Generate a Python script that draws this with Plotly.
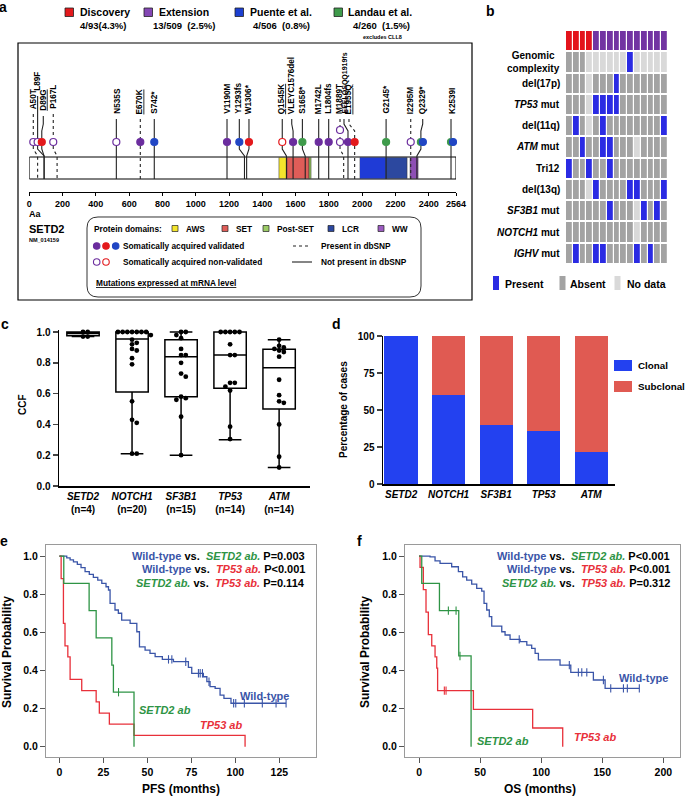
import plotly.graph_objects as go

W, H = 685, 797
FONT = "Liberation Sans, Arial, sans-serif"


def px(x):
    return x / W


def py(y):
    return 1 - y / H


# ======================= DATA =======================
# ---- panel a : SETD2 lollipop ----
cohort_names = ['Discovery', 'Extension', 'Puente et al.', 'Landau et al.']
cohort_counts = ['4/93(4.3%)', '13/509  (2.5%)', '4/506  (0.8%)', '4/260  (1.5%)']
cohort_colors = ['#e3191c', '#8447b4', '#1c3fd1', '#3f9b4b']
circle_colors = ['#e3191c', '#6b2d9e', '#2146c4', '#3f9b4b']

protein_length = 2564
axis_ticks = [0, 200, 400, 600, 800, 1000, 1200, 1400, 1600, 1800, 2000, 2200, 2400, 2564]
domain_names = ['AWS', 'SET', 'Post-SET', 'LCR', 'WW']
domain_start = [1500, 1548, 1681, 1987, 2288]
domain_end = [1548, 1681, 1693, 2270, 2336]
domain_colors = ['#f4e52c', '#df5d58', '#8fc05b', '#2c489f', '#8e4fb5']
lcr_core = [1987, 2138]

mut_names = ['A50T', 'L89F', 'D89G', 'P167L', 'N535S', 'E670K', 'S742*', 'V1190M', 'Y1293fs',
             'W1306*', 'Q1545K', 'VLEYC1576del', 'S1658*', 'M1742L', 'L1804fs', 'M1889T',
             'EEELQSQQ1919fs', 'E1955Q', 'G2145*', 'I2295M', 'Q2329*', 'K2539I']
mut_pos = [50, 89, 89, 167, 535, 670, 742, 1190, 1293, 1306, 1545, 1576, 1658, 1742, 1804,
           1889, 1919, 1955, 2145, 2295, 2329, 2539]
mut_label_at = [24, 48, 84, 141, 525, 665, 751, 1186, 1256, 1316, 1517, 1577, 1637, 1737, 1797,
                1861, 1891, 1921, 2144, 2292, 2364, 2540]
mut_dbsnp = [1, 0, 0, 1, 0, 1, 0, 0, 0, 0, 0, 0, 0, 0, 0, 1, 0, 1, 0, 1, 0, 0]
mut_mrna = [0, 0, 1, 0, 0, 1, 0, 0, 0, 0, 1, 0, 0, 0, 0, 0, 0, 1, 0, 0, 0, 0]

# one entry per mutated sample (circle)
samp_mut = [0, 1, 2, 3, 4, 5, 6, 7, 8, 9, 10, 11, 12, 13, 14, 15, 15, 16, 17, 18, 19, 20, 20, 21, 21]
samp_cohort = [1, 1, 0, 1, 1, 1, 2, 1, 2, 0, 0, 1, 3, 1, 1, 1, 1, 1, 0, 3, 1, 3, 2, 3, 2]
samp_valid = [0, 0, 1, 0, 0, 1, 1, 1, 1, 1, 0, 1, 1, 1, 1, 0, 0, 1, 1, 1, 0, 1, 1, 1, 1]
samp_at = [24, 50, 75, 144, 523, 667, 751, 1188, 1262, 1320, 1520, 1585, 1641, 1739, 1799,
           1867, 1867, 1915, 1955, 2144, 2292, 2353, 2365, 2534, 2546]
samp_stack = [0] * 15 + [0, 1] + [0] * 8

# ---- panel b : heatmap ----
b_cohort = ['D', 'D', 'D', 'D', 'E', 'E', 'E', 'E', 'E', 'E', 'E', 'E', 'E', 'E', 'E']
b_rows = ['Genomic complexity', 'del(17p)', 'TP53 mut', 'del(11q)', 'ATM mut', 'Tri12',
          'del(13q)', 'SF3B1 mut', 'NOTCH1 mut', 'IGHV mut']
b_row_labels = ['Genomic<br>complexity', 'del(17p)', '<i>TP53</i> mut', 'del(11q)', '<i>ATM</i> mut',
                'Tri12', 'del(13q)', '<i>SF3B1</i> mut', '<i>NOTCH1</i> mut', '<i>IGHV</i> mut']
b_status = [
    'AAANNNNNNPNNNNN',
    'AAANAAAPAAAAAAA',
    'AAANPPPPAAAAAAA',
    'APANAPAAAAAAAAP',
    'AAPAAPPAAANAAAA',
    'PAAPAAPAAAAAAAA',
    'AAANPAAAAPPAAAP',
    'AAAAAAPAAANPAPA',
    'AAAAAAAAAANAAAA',
    'APAAPPAAAAPAPAA',
]

# ---- panel c : CCF boxplots ----
c_genes = ['SETD2', 'NOTCH1', 'SF3B1', 'TP53', 'ATM']
c_n = [4, 20, 15, 14, 14]
c_q1 = [0.975, 0.61, 0.58, 0.635, 0.50]
c_median = [0.99, 0.955, 0.84, 0.85, 0.768]
c_q3 = [1.0, 1.0, 0.95, 1.0, 0.888]
c_min = [0.97, 0.21, 0.20, 0.30, 0.12]
c_max = [1.0, 1.0, 1.0, 1.0, 0.95]
ccf_setd2 = [1.0, 1.0, 0.97, 0.97]
ccf_notch1 = [1.0, 1.0, 1.0, 1.0, 1.0, 1.0, 1.0, 0.98, 0.95, 0.93, 0.92, 0.89, 0.88, 0.83, 0.79,
              0.55, 0.43, 0.41, 0.21, 0.21]
ccf_sf3b1 = [1.0, 1.0, 0.98, 0.96, 0.89, 0.85, 0.85, 0.80, 0.73, 0.71, 0.58, 0.57, 0.56, 0.45, 0.20]
ccf_tp53 = [1.0, 1.0, 1.0, 1.0, 1.0, 0.92, 0.85, 0.85, 0.67, 0.67, 0.645, 0.62, 0.385, 0.305]
ccf_atm = [0.95, 0.91, 0.90, 0.89, 0.88, 0.87, 0.84, 0.69, 0.59, 0.55, 0.54, 0.40, 0.19, 0.12]

# ---- panel d : clonality ----
d_clonal = [100, 60, 40, 35.7, 21.4]
d_subclonal = [0, 40, 60, 64.3, 78.6]

# ---- panel e : PFS ----
pfs_wt_t = [0, 4.2, 6.1, 8.0, 10.2, 12.3, 14.6, 17.0, 19.3, 21.8, 24.1, 26.5, 27.9, 28.8, 31.6,
            33.5, 35.4, 40.2, 44.0, 45.5, 48.7, 51.5, 54.4, 58.5, 64.8, 73.3, 75.2, 81.8, 83.8,
            85.6, 88.5, 91.3, 93.5, 97.5]
pfs_wt_s = [1.0, 0.99, 0.98, 0.97, 0.956, 0.939, 0.918, 0.904, 0.888, 0.874, 0.857, 0.839, 0.822,
            0.752, 0.717, 0.70, 0.664, 0.647, 0.603, 0.524, 0.507, 0.49, 0.472, 0.458, 0.446, 0.416,
            0.385, 0.367, 0.341, 0.315, 0.306, 0.271, 0.254, 0.228]
pfs_wt_end = 128.8
pfs_wt_cens = [62.0, 63.9, 71.8, 79.0, 80.0, 81.3, 85.0, 99.0, 100.2, 105.1, 115.3, 123.1, 128.8]
pfs_setd2_t = [0, 2.5, 16.9, 20.9, 29.8, 30.7, 42.4]
pfs_setd2_s = [1.0, 0.857, 0.714, 0.571, 0.428, 0.286, 0.0]
pfs_setd2_cens = [33.6]
pfs_tp53_t = [0, 1.0, 2.3, 3.2, 4.8, 6.1, 12.7, 20.9, 22.7, 28.4, 42.4, 105.5]
pfs_tp53_s = [1.0, 0.882, 0.647, 0.529, 0.471, 0.353, 0.294, 0.235, 0.176, 0.118, 0.059, 0.0]
pfs_tp53_cens = []
pfs_p = ['P=0.003', 'P&lt;0.001', 'P=0.114']

# ---- panel f : OS ----
os_wt_t = [0, 9.0, 13.1, 17.2, 26.7, 32.2, 35.7, 39.0, 43.1, 47.2, 51.3, 53.2, 55.4, 57.5, 59.5,
           67.7, 70.4, 74.5, 82.7, 88.2, 92.2, 95.0, 97.7, 115.4, 124.2, 142.7, 152.3]
os_wt_s = [1.0, 0.996, 0.975, 0.962, 0.944, 0.918, 0.891, 0.874, 0.853, 0.83, 0.816, 0.752, 0.717,
           0.682, 0.633, 0.603, 0.586, 0.563, 0.551, 0.533, 0.516, 0.49, 0.455, 0.428, 0.39, 0.35,
           0.306]
os_wt_end = 180.3
os_wt_cens = [82.0, 123.0, 130.4, 133.2, 137.3, 150.9, 156.9, 167.3, 170.5, 180.3]
os_setd2_t = [0, 2.2, 16.7, 32.5, 42.6]
os_setd2_s = [1.0, 0.857, 0.714, 0.476, 0.0]
os_setd2_cens = [24.0, 30.3, 33.5]
os_tp53_t = [0, 0.8, 3.5, 5.7, 7.6, 10.4, 13.1, 14.5, 15.2, 44.5, 93.0, 117.6]
os_tp53_s = [1.0, 0.941, 0.824, 0.706, 0.588, 0.529, 0.471, 0.412, 0.294, 0.196, 0.098, 0.0]
os_tp53_cens = [20.7, 22.1]
os_p = ['P&lt;0.001', 'P&lt;0.001', 'P=0.312']

# ======================= FIGURE =======================
fig = go.Figure()
shapes = []
ann = []


def text(x, y, s, size=10, color='black', xanchor='left', yanchor='middle', bold=True, angle=0,
         **kw):
    ann.append(dict(x=px(x), y=py(y), xref='paper', yref='paper',
                    text=('<b>%s</b>' % s) if bold else s, showarrow=False, xanchor=xanchor,
                    yanchor=yanchor, textangle=angle,
                    font=dict(size=size, color=color, family=FONT), **kw))


def prect(x0, y0, x1, y1, fill, line='#222', lw=0.8):
    shapes.append(dict(type='rect', xref='paper', yref='paper', x0=px(x0), x1=px(x1),
                       y0=py(y1), y1=py(y0), fillcolor=fill, line=dict(color=line, width=lw)))


# panel letters
for L, x, y in [('a', 3, 7), ('b', 491, 11), ('c', 5, 324), ('d', 336, 324), ('e', 4, 541),
                ('f', 359, 541)]:
    text(x, y, L, size=14, xanchor='center')

# ---------------- panel a ----------------
leg_x = [65, 144, 235, 334]
for k in range(4):
    prect(leg_x[k], 8, leg_x[k] + 8.5, 16.5, cohort_colors[k], lw=0.8)
    text(leg_x[k] + 12.5, 12.5, cohort_names[k], size=10.5)
cnt_cx = [103, 184, 281, 381]
for k in range(4):
    text(cnt_cx[k], 25.5, cohort_counts[k], size=9.5, xanchor='center')
text(382, 37.5, 'excludes CLL8', size=5.5, xanchor='center')

# outer frame
prect(18, 43, 472, 300, 'rgba(0,0,0,0)', line='black', lw=1.2)

# protein bar & domains (data coords)
shapes.append(dict(type='rect', xref='x', yref='y', x0=0, x1=protein_length, y0=157, y1=179,
                   fillcolor='white', line=dict(color='black', width=1), layer='below'))
for k in range(len(domain_names)):
    shapes.append(dict(type='rect', xref='x', yref='y', x0=domain_start[k], x1=domain_end[k],
                       y0=157.5, y1=178.5, fillcolor=domain_colors[k],
                       line=dict(color='#333', width=0.5), layer='below'))
shapes.append(dict(type='rect', xref='x', yref='y', x0=lcr_core[0], x1=lcr_core[1],
                   y0=157.8, y1=178.2, fillcolor='#1f3bd6', line=dict(width=0), layer='below'))

label_bottom = {'A50T': 111, 'L89F': 93, 'D89G': 113, 'P167L': 111}
first_samp = {}
for j, m in enumerate(samp_mut):
    first_samp.setdefault(m, samp_at[j])

solid_x, solid_y, dot_x, dot_y = [], [], [], []
for i, name in enumerate(mut_names):
    lx, cx, pos = mut_label_at[i], first_samp[i], mut_pos[i]
    lb = label_bottom.get(name, 116)
    if abs(lx - cx) > 6:
        seg1 = [(lx, lb + 3), (lx, 124), (cx, 131), (cx, 138)]
    else:
        seg1 = [(cx, lb + 3), (cx, 138)]
    if abs(cx - pos) > 12:
        seg2 = [(cx, 146), (cx, 149), (pos, 156), (pos, 179)]
    else:
        seg2 = [(cx, 146), (cx, 179)]
    tx, ty = (dot_x, dot_y) if mut_dbsnp[i] else (solid_x, solid_y)
    for seg in (seg1, seg2):
        tx += [p[0] for p in seg] + [None]
        ty += [p[1] for p in seg] + [None]
    font = dict(size=7 if len(name) > 12 else 8.2, family=FONT, color='black')
    if mut_mrna[i]:
        font['lineposition'] = 'under'
    ann.append(dict(x=lx, y=lb, xref='x', yref='y', text='<b>%s</b>' % name, showarrow=False,
                    textangle=-90, xanchor='center', yanchor='bottom', font=font))

fig.add_trace(go.Scatter(x=solid_x, y=solid_y, mode='lines', xaxis='x', yaxis='y',
                         line=dict(color='#222', width=1.1), hoverinfo='skip', showlegend=False))
fig.add_trace(go.Scatter(x=dot_x, y=dot_y, mode='lines', xaxis='x', yaxis='y',
                         line=dict(color='#222', width=1.1, dash='dot'), hoverinfo='skip',
                         showlegend=False))
fig.add_trace(go.Scatter(
    x=samp_at, y=[142 - 12 * s for s in samp_stack], mode='markers', xaxis='x', yaxis='y',
    marker=dict(size=7, color=[circle_colors[c] if v else 'white'
                               for c, v in zip(samp_cohort, samp_valid)],
                line=dict(width=1.2, color=[circle_colors[c] for c in samp_cohort])),
    cliponaxis=False, hoverinfo='skip', showlegend=False))

text(27, 214, 'Aa', size=9)
text(27, 229, 'SETD2', size=11)
text(27, 239.5, 'NM_014159', size=5.5)

# legend box (rounded)
bx0, bx1, by0, by1, r = 87, 421, 217, 297, 11
p = lambda x, y: '%.5f,%.5f' % (px(x), py(y))
path = ('M ' + p(bx0 + r, by0) + ' L ' + p(bx1 - r, by0) + ' Q ' + p(bx1, by0) + ' ' + p(bx1, by0 + r) +
        ' L ' + p(bx1, by1 - r) + ' Q ' + p(bx1, by1) + ' ' + p(bx1 - r, by1) +
        ' L ' + p(bx0 + r, by1) + ' Q ' + p(bx0, by1) + ' ' + p(bx0, by1 - r) +
        ' L ' + p(bx0, by0 + r) + ' Q ' + p(bx0, by0) + ' ' + p(bx0 + r, by0) + ' Z')
shapes.append(dict(type='path', xref='paper', yref='paper', path=path,
                   line=dict(color='#333', width=1)))
text(92, 229, 'Protein domains:', size=8.3)
dom_leg_x = [172, 222, 263, 328, 378]
dom_leg_col = ['#f4e52c', '#df5d58', '#9ccb66', '#2c489f', '#9b5bc0']
for k in range(5):
    prect(dom_leg_x[k], 225.5, dom_leg_x[k] + 6, 231.5, dom_leg_col[k], lw=0.7)
    text(dom_leg_x[k] + 12, 229, domain_names[k], size=8.3)
fig.add_trace(go.Scatter(
    x=[96.7, 106, 115.7, 96.7, 106],
    y=[246, 246, 246, 262, 262], mode='markers',
    xaxis='x7', yaxis='y7',
    marker=dict(size=6.5, color=[circle_colors[1], circle_colors[0], circle_colors[2], 'white', 'white'],
                line=dict(width=1.1, color=[circle_colors[1], circle_colors[0], circle_colors[2],
                                            circle_colors[1], circle_colors[0]])),
    cliponaxis=False, hoverinfo='skip', showlegend=False))
text(121, 246, 'Somatically acquired validated', size=8.3)
text(121, 262, 'Somatically acquired non-validated', size=8.3)
shapes.append(dict(type='line', xref='paper', yref='paper', x0=px(293), x1=px(311), y0=py(246),
                   y1=py(246), line=dict(color='#222', width=1.1, dash='dot')))
shapes.append(dict(type='line', xref='paper', yref='paper', x0=px(292), x1=px(312), y0=py(262),
                   y1=py(262), line=dict(color='#222', width=1.1)))
text(319, 246, 'Present in dbSNP', size=8.3)
text(319, 262, 'Not present in dbSNP', size=8.3)
ann.append(dict(x=px(94), y=py(283), xref='paper', yref='paper',
                text='<b>Mutations expressed at mRNA level</b>', showarrow=False, xanchor='left',
                yanchor='middle', font=dict(size=8.3, family=FONT, color='black',
                                            lineposition='under')))

# ---------------- panel b ----------------
code = {'A': 0, 'P': 1, 'N': 2}
z = [[3 if c == 'D' else 4 for c in b_cohort]] + [[code[ch] for ch in row] for row in b_status]
cs = ['#a3a3a3', '#2b2be3', '#d9d9d9', '#e3141c', '#7234a2']
colorscale = []
for k, c in enumerate(cs):
    colorscale += [[max(0, (k - 0.5) / 4), c], [min(1, (k + 0.5) / 4), c]]
fig.add_trace(go.Heatmap(z=z, x=list(range(15)), y=list(range(11)), xaxis='x2', yaxis='y2',
                         colorscale=colorscale, zmin=0, zmax=4, showscale=False, xgap=1.2, ygap=2,
                         hoverinfo='skip'))
for k, lab in enumerate(b_row_labels):
    ann.append(dict(x=px(562), y=k + 1, xref='paper', yref='y2', text='<b>%s</b>' % lab,
                    showarrow=False, xanchor='right', yanchor='middle',
                    font=dict(size=10, family=FONT, color='black')))
prect(493, 276, 499, 290, cs[1], line=cs[1], lw=0)
text(503, 283.5, 'Present', size=10.5)
prect(559.5, 276, 565.5, 290, cs[0], line=cs[0], lw=0)
text(568, 283.5, 'Absent', size=10.5)
prect(614.5, 276, 620.5, 290, cs[2], line=cs[2], lw=0)
text(625, 283.5, 'No data', size=10.5)


# ---------------- panel c ----------------
def swarm(vals, center, xs=49.0, ys=154.0, d=4.7):
    placed = []
    res = [0.0] * len(vals)
    order = sorted(range(len(vals)), key=lambda i: -vals[i])
    for i in order:
        yv = vals[i] * ys
        k = 0
        found = None
        while found is None:
            for c in ([0] if k == 0 else [k, -k]):
                xo = c * d
                if all((xo - a) ** 2 + (yv - b) ** 2 >= 0.85 * d * d for a, b in placed):
                    found = xo
                    break
            k += 1
        placed.append((found, yv))
        res[i] = center + found / xs
    return res


fig.add_trace(go.Box(x=list(range(5)), q1=c_q1, median=c_median, q3=c_q3, lowerfence=c_min,
                     upperfence=c_max, xaxis='x3', yaxis='y3', fillcolor='white',
                     line=dict(color='black', width=1.5), width=0.66, whiskerwidth=0.7,
                     boxpoints=False, hoverinfo='skip', showlegend=False))
cx_all, cy_all = [], []
for k, vals in enumerate([ccf_setd2, ccf_notch1, ccf_sf3b1, ccf_tp53, ccf_atm]):
    cx_all += swarm(vals, k)
    cy_all += vals
fig.add_trace(go.Scatter(x=cx_all, y=cy_all, mode='markers', xaxis='x3', yaxis='y3',
                         marker=dict(size=4.8, color='black'), cliponaxis=False,
                         hoverinfo='skip', showlegend=False))
text(22, 405, 'CCF', size=10, angle=-90, xanchor='center')

# ---------------- panel d ----------------
D_BLUE, D_RED = '#2341f0', '#e05a52'
fig.add_trace(go.Bar(x=list(range(5)), y=d_clonal, xaxis='x4', yaxis='y4', width=0.7,
                     marker=dict(color=D_BLUE, line=dict(width=0)), hoverinfo='skip',
                     showlegend=False))
fig.add_trace(go.Bar(x=list(range(5)), y=d_subclonal, xaxis='x4', yaxis='y4', width=0.7,
                     marker=dict(color=D_RED, line=dict(width=0)), hoverinfo='skip',
                     showlegend=False))
prect(614, 360, 632, 371, D_BLUE, line=D_BLUE, lw=0)
text(636, 365.5, 'Clonal', size=9.8)
prect(614, 381, 632, 392, D_RED, line=D_RED, lw=0)
text(636, 386.5, 'Subclonal', size=9.8)
text(343, 410, 'Percentage of cases', size=10, angle=-90, xanchor='center')

# ---------------- panels e, f ----------------
KM_BLUE, KM_GREEN, KM_RED = '#3a55a8', '#2e9445', '#e8303a'


def surv_at(t, s, x):
    v = s[0]
    for ti, si in zip(t, s):
        if ti <= x:
            v = si
    return v


def add_km(t, s, end, cens, color, xa, ya):
    xs, ys = list(t), list(s)
    if end is not None:
        xs.append(end)
        ys.append(s[-1])
    fig.add_trace(go.Scatter(x=xs, y=ys, mode='lines', line=dict(color=color, width=1.3, shape='hv'),
                             xaxis=xa, yaxis=ya, hoverinfo='skip', showlegend=False))
    if cens:
        fig.add_trace(go.Scatter(x=cens, y=[surv_at(t, s, c) for c in cens], mode='markers',
                                 xaxis=xa, yaxis=ya,
                                 marker=dict(symbol='line-ns', size=6,
                                             line=dict(width=1.1, color=color)),
                                 hoverinfo='skip', showlegend=False))


add_km(pfs_wt_t, pfs_wt_s, pfs_wt_end, pfs_wt_cens, KM_BLUE, 'x5', 'y5')
add_km(pfs_tp53_t, pfs_tp53_s, None, pfs_tp53_cens, KM_RED, 'x5', 'y5')
add_km(pfs_setd2_t, pfs_setd2_s, None, pfs_setd2_cens, KM_GREEN, 'x5', 'y5')
add_km(os_wt_t, os_wt_s, os_wt_end, os_wt_cens, KM_BLUE, 'x6', 'y6')
add_km(os_tp53_t, os_tp53_s, None, os_tp53_cens, KM_RED, 'x6', 'y6')
add_km(os_setd2_t, os_setd2_s, None, os_setd2_cens, KM_GREEN, 'x6', 'y6')


def km_lines(pv):
    wt = '<span style="color:%s">Wild-type</span>' % KM_BLUE
    sd = '<i><span style="color:%s">SETD2 ab.</span></i>' % KM_GREEN
    tp = '<i><span style="color:%s">TP53 ab.</span></i>' % KM_RED
    return ['%s vs.  %s %s' % (wt, sd, pv[0]), '%s vs.  %s %s' % (wt, tp, pv[1]),
            '%s vs.  %s %s' % (sd, tp, pv[2])]


for k, line in enumerate(km_lines(pfs_p)):
    text(307, 555.7 + 13.5 * k, line, size=11, xanchor='right')
for k, line in enumerate(km_lines(os_p)):
    text(672, 555.7 + 13.5 * k, line, size=11, xanchor='right')
text(238, 695.5, 'Wild-type', size=11, color=KM_BLUE)
text(137, 710, '<i>SETD2 ab</i>', size=11, color=KM_GREEN)
text(198, 724.5, '<i>TP53 ab</i>', size=11, color=KM_RED)
text(617, 677.5, 'Wild-type', size=11, color=KM_BLUE)
text(475, 740.5, '<i>SETD2 ab</i>', size=11, color=KM_GREEN)
text(572, 736.5, '<i>TP53 ab</i>', size=11, color=KM_RED)
text(7, 652, 'Survival Probability', size=12, angle=-90, xanchor='center')
text(365, 652, 'Survival Probability', size=12, angle=-90, xanchor='center')
text(181, 789, 'PFS (months)', size=12, xanchor='center')
text(540, 789, 'OS (months)', size=12, xanchor='center')

# ======================= AXES =======================
tf = lambda s: dict(size=s, family=FONT, color='black')
base = dict(showgrid=False, zeroline=False)
surv_y = [0, 0.2, 0.4, 0.6, 0.8, 1.0]
fig.update_layout(
    width=W, height=H, margin=dict(l=0, r=0, t=0, b=0), autosize=False,
    paper_bgcolor='white', plot_bgcolor='rgba(0,0,0,0)', template='none',
    font=dict(family=FONT, color='black'), hovermode=False, barmode='stack', showlegend=False,
    xaxis=dict(base, domain=[px(29.3), px(456)], range=[0, protein_length], anchor='y',
               showline=True, linecolor='black', linewidth=1, ticks='outside', ticklen=3,
               tickcolor='black', tickvals=axis_ticks,
               ticktext=['<b>%d</b>' % v for v in axis_ticks], tickfont=tf(9)),
    yaxis=dict(base, domain=[py(192), py(43)], range=[192, 43], visible=False, anchor='x'),
    xaxis2=dict(base, domain=[px(566), px(668)], range=[-0.5, 14.5], visible=False, anchor='y2'),
    yaxis2=dict(base, domain=[py(264), py(30)], range=[10.5, -0.5], visible=False, anchor='x2'),
    xaxis3=dict(base, domain=[px(59), px(310)], range=[-0.49, 4.63], anchor='y3', showline=True,
                linecolor='black', linewidth=1.5, ticks='', tickvals=list(range(5)),
                ticktext=['<b><i>%s</i><br>(n=%d)</b>' % (g, n) for g, n in zip(c_genes, c_n)],
                tickfont=tf(10)),
    yaxis3=dict(base, domain=[py(486), py(486 - 1.015 * 154)], range=[0, 1.015], anchor='x3',
                showline=True, linecolor='black', linewidth=1.5, ticks='outside', ticklen=5,
                tickwidth=1.5, tickvals=[0, 0.2, 0.4, 0.6, 0.8, 1.0],
                ticktext=['<b>%.1f</b>' % v for v in [0, 0.2, 0.4, 0.6, 0.8, 1.0]],
                tickfont=tf(10)),
    xaxis4=dict(base, domain=[px(383), px(615)], range=[-0.38, 4.5], anchor='y4', showline=True,
                linecolor='black', linewidth=1.5, ticks='', tickvals=list(range(5)),
                ticktext=['<b><i>%s</i></b>' % g for g in c_genes], tickfont=tf(10)),
    yaxis4=dict(base, domain=[py(484), py(336)], range=[0, 100], anchor='x4', showline=True,
                linecolor='black', linewidth=1.5, ticks='outside', ticklen=5, tickwidth=1.5,
                tickvals=[0, 25, 50, 75, 100], ticktext=['<b>%d</b>' % v for v in [0, 25, 50, 75, 100]],
                tickfont=tf(10)),
    xaxis5=dict(base, domain=[px(46), px(316)], range=[-7.6, 145.8], anchor='y5', showline=True,
                mirror=True, linecolor='#9a9a9a', linewidth=1, ticks='outside', ticklen=5,
                tickcolor='#555', tickvals=[0, 25, 50, 75, 100, 125],
                ticktext=['<b>%d</b>' % v for v in [0, 25, 50, 75, 100, 125]], tickfont=tf(10.5)),
    yaxis5=dict(base, domain=[py(757), py(545)], range=[-0.054, 1.058], anchor='x5', showline=True,
                mirror=True, linecolor='#9a9a9a', linewidth=1, ticks='outside', ticklen=5,
                tickcolor='#555', tickvals=surv_y, ticktext=['<b>%.1f</b>' % v for v in surv_y],
                tickfont=tf(10.5)),
    xaxis6=dict(base, domain=[px(405), px(680)], range=[-11.5, 213.6], anchor='y6', showline=True,
                mirror=True, linecolor='#9a9a9a', linewidth=1, ticks='outside', ticklen=5,
                tickcolor='#555', tickvals=[0, 50, 100, 150, 200],
                ticktext=['<b>%d</b>' % v for v in [0, 50, 100, 150, 200]], tickfont=tf(10.5)),
    yaxis6=dict(base, domain=[py(757), py(545)], range=[-0.054, 1.058], anchor='x6', showline=True,
                mirror=True, linecolor='#9a9a9a', linewidth=1, ticks='outside', ticklen=5,
                tickcolor='#555', tickvals=surv_y, ticktext=['<b>%.1f</b>' % v for v in surv_y],
                tickfont=tf(10.5)),
    # page-pixel axes used for the small legend symbols of panel a
    xaxis7=dict(base, domain=[0, 1], range=[0, W], visible=False, anchor='y7'),
    yaxis7=dict(base, domain=[0, 1], range=[H, 0], visible=False, anchor='x7'),
    shapes=shapes, annotations=ann,
)

fig.write_html("out.html", config={'displayModeBar': False, 'staticPlot': True},
               post_script="document.body.style.margin='0';")
